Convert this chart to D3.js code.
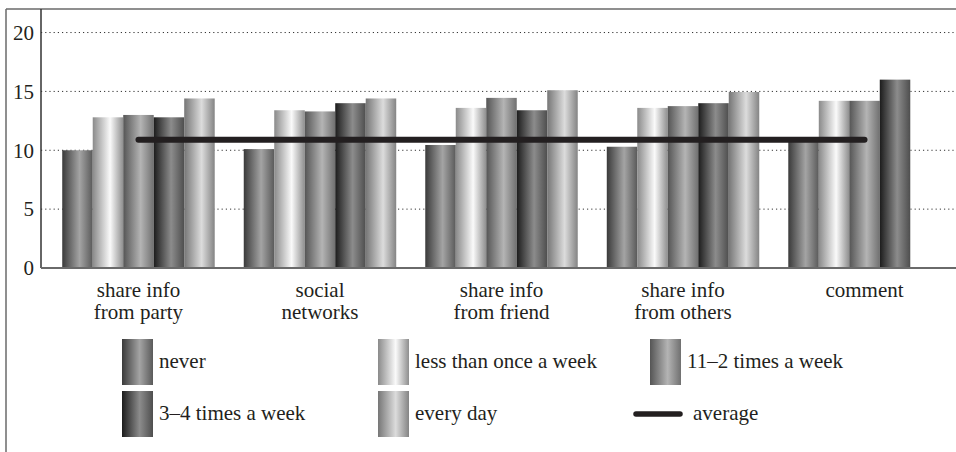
<!DOCTYPE html>
<html>
<head>
<meta charset="utf-8">
<script src="https://cdn.jsdelivr.net/npm/d3@7"></script>
<style>
  body { margin:0; background:#fff; }
  svg text { font-family:"Liberation Serif", "Times New Roman", Times; fill:#231f20; }
</style>
</head>
<body>
<div id="chart"></div>
<script>
var svgW = 956,
    svgH = 452,
    fontSize = 21,
    fontFam = '"Liberation Serif", "Times New Roman", Times';

// data
var categories = [['share info','from party'], ['social','networks'], ['share info','from friend'], ['share info','from others'], ['comment']];
var seriesNames = ['never', 'less than once a week', '11–2 times a week', '3–4 times a week', 'every day'];
var never        = [10.0, 10.1, 10.45, 10.3, 10.7];
var lessThanOnce = [12.8, 13.4, 13.6, 13.6, 14.2];
var oneTwo       = [13.0, 13.3, 14.45, 13.75, 14.2];
var threeFour    = [12.8, 14.0, 13.4, 14.0, 16.0];
var everyDay     = [14.4, 14.4, 15.1, 14.95, null];
var average      = [10.9, 10.9, 10.9, 10.9, 10.9];
var yTicks = [0, 5, 10, 15, 20];

var seriesValues = [never, lessThanOnce, oneTwo, threeFour, everyDay];

// gradient stops for each series (left, highlight, right)
var shades = [
  ['#3a3a3a', '#a4a4a4', '#5a5a5a'],
  ['#8a8a8a', '#fafafa', '#8e8e8e'],
  ['#555555', '#b4b4b4', '#707070'],
  ['#1c1c1c', '#8c8c8c', '#4e4e4e'],
  ['#767676', '#dcdcdc', '#848484']
];

var svg = d3.select('#chart')
  .append('svg')
    .attr('width', svgW)
    .attr('height', svgH)
    .attr('font-family', fontFam);

var defs = svg.append('defs');
shades.forEach(function(s, i){
  var g = defs.append('linearGradient')
    .attr('id', 'grad' + i)
    .attr('x1', '0%').attr('x2', '100%').attr('y1', '0%').attr('y2', '0%');
  g.append('stop').attr('offset', '0%').attr('stop-color', s[0]);
  g.append('stop').attr('offset', '57%').attr('stop-color', s[1]);
  g.append('stop').attr('offset', '100%').attr('stop-color', s[2]);
});

var x = d3.scaleBand()
  .domain(d3.range(categories.length))
  .range([41, 962])
  .paddingInner(0.16)
  .paddingOuter(0.117);

var xs = d3.scaleBand()
  .domain(d3.range(seriesNames.length))
  .range([0, x.bandwidth()]);

var y = d3.scaleLinear()
  .domain([0, 22])
  .range([268, 9]);

// frame (figure box, only top and left visible)
svg.append('line')
  .attr('x1', 6).attr('y1', 9).attr('x2', svgW).attr('y2', 9)
  .style('stroke', '#6a6a6a').style('stroke-width', 1.5);
svg.append('line')
  .attr('x1', 6).attr('y1', 9).attr('x2', 6).attr('y2', svgH)
  .style('stroke', '#6a6a6a').style('stroke-width', 1.5);

// dotted grid
svg.append('g')
  .selectAll('line')
  .data(yTicks.filter(function(d){ return d > 0; }))
  .enter()
  .append('line')
    .attr('x1', 41).attr('x2', svgW)
    .attr('y1', function(d){ return y(d); })
    .attr('y2', function(d){ return y(d); })
    .style('stroke', '#333')
    .style('stroke-width', 1)
    .style('stroke-dasharray', '1.2,3');

// y axis
var yAxis = svg.append('g')
  .attr('transform', 'translate(41,0)')
  .call(d3.axisLeft(y).tickValues(yTicks).tickSize(0).tickPadding(7));
yAxis.attr('font-family', fontFam).attr('font-size', fontSize);
yAxis.select('.domain').remove();
yAxis.selectAll('text')
  .style('font-size', fontSize + 'px')
  .style('font-family', fontFam)
  .attr('fill', '#231f20');

// bars
var groups = svg.append('g')
  .selectAll('g')
  .data(categories)
  .enter()
  .append('g')
    .attr('transform', function(d, i){ return 'translate(' + x(i) + ',0)'; });

groups.selectAll('rect')
  .data(function(d, i){
    return seriesValues.map(function(s, j){ return {s:j, v:s[i]}; })
      .filter(function(e){ return e.v != null; });
  })
  .enter()
  .append('rect')
    .attr('x', function(d){ return xs(d.s); })
    .attr('width', xs.bandwidth())
    .attr('y', function(d){ return y(d.v); })
    .attr('height', function(d){ return y(0) - y(d.v); })
    .style('fill', function(d){ return 'url(#grad' + d.s + ')'; });

// axis lines
svg.append('line')
  .attr('x1', 41).attr('y1', 9).attr('x2', 41).attr('y2', y(0))
  .style('stroke', '#333').style('stroke-width', 1.5);
svg.append('line')
  .attr('x1', 41).attr('y1', y(0)).attr('x2', svgW).attr('y2', y(0))
  .style('stroke', '#6a6a6a').style('stroke-width', 2);

// average line
var avgLine = d3.line()
  .x(function(d, i){ return x(i) + x.bandwidth() / 2; })
  .y(function(d){ return y(d); });
svg.append('path')
  .datum(average)
  .attr('d', avgLine)
  .style('fill', 'none')
  .style('stroke', '#231f20')
  .style('stroke-width', 6)
  .style('stroke-linecap', 'round');

// category labels
var labels = svg.append('g')
  .selectAll('text')
  .data(categories)
  .enter()
  .append('text')
    .attr('text-anchor', 'middle')
    .attr('x', function(d, i){ return x(i) + x.bandwidth() / 2; })
    .attr('y', 297)
    .style('font-family', fontFam)
    .style('font-size', fontSize + 'px');
labels.selectAll('tspan')
  .data(function(d){ return d; })
  .enter()
  .append('tspan')
    .attr('x', function(){ return d3.select(this.parentNode).attr('x'); })
    .attr('dy', function(d, i){ return i === 0 ? 0 : 22; })
    .text(function(d){ return d; });

// legend
var legendCols = [122, 378, 650],
    legendRows = [339, 391];
var legendItems = seriesNames.map(function(n, i){ return {name:n, s:i}; });
legendItems.push({name:'average', s:-1});

var legend = svg.append('g')
  .selectAll('g')
  .data(legendItems)
  .enter()
  .append('g')
    .attr('transform', function(d, i){
      return 'translate(' + legendCols[i % 3] + ',' + legendRows[Math.floor(i / 3)] + ')';
    });

legend.filter(function(d){ return d.s >= 0; })
  .append('rect')
    .attr('width', 31)
    .attr('height', 46)
    .style('fill', function(d){ return 'url(#grad' + d.s + ')'; });

legend.filter(function(d){ return d.s < 0; })
  .append('line')
    .attr('x1', -14).attr('x2', 30)
    .attr('y1', 23).attr('y2', 23)
    .style('stroke', '#231f20')
    .style('stroke-width', 5.5)
    .style('stroke-linecap', 'round');

legend.append('text')
  .attr('x', function(d){ return d.s < 0 ? 43 : 37; })
  .attr('y', 29)
  .style('font-family', fontFam)
  .style('font-size', fontSize + 'px')
  .text(function(d){ return d.name; });
</script>
</body>
</html>
